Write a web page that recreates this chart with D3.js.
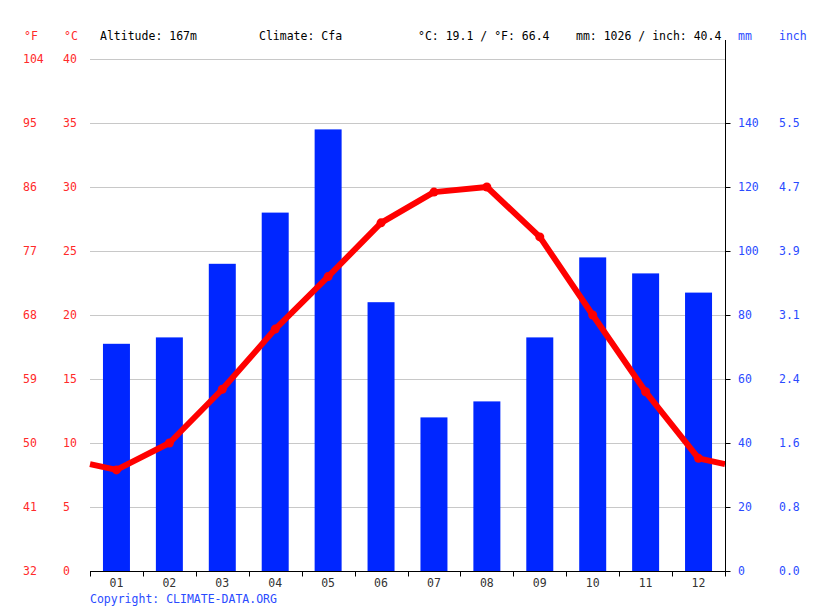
<!DOCTYPE html>
<html>
<head>
<meta charset="utf-8">
<script src="https://cdn.jsdelivr.net/npm/d3@7"></script>
<style>
  body { margin: 0; background: #fff; }
  svg text { font-family: "DejaVu Sans Mono", "Liberation Mono", monospace; font-size: 11.5px; }
</style>
</head>
<body>
<svg id="chart" width="815" height="611"></svg>
<script>
const months = ["01","02","03","04","05","06","07","08","09","10","11","12"];
const precipMM = [71, 73, 96, 112, 138, 84, 48, 53, 73, 98, 93, 87];
const tempC = [7.9, 10.0, 14.2, 18.9, 23.0, 27.2, 29.6, 30.0, 26.1, 20.0, 14.0, 8.8];
const tempTicksC = [0, 5, 10, 15, 20, 25, 30, 35, 40];
const tempTicksF = ["32", "41", "50", "59", "68", "77", "86", "95", "104"];
const precipTicksMM = [0, 20, 40, 60, 80, 100, 120, 140];
const precipTicksInch = ["0.0", "0.8", "1.6", "2.4", "3.1", "3.9", "4.7", "5.5"];
const headerTexts = [
  { text: "Altitude: 167m", x: 100 },
  { text: "Climate: Cfa", x: 259 },
  { text: "°C: 19.1 / °F: 66.4", x: 418 },
  { text: "mm: 1026 / inch: 40.4", x: 576 }
];

const svg = d3.select("#chart");
const pL = 90, pR = 725, pB = 571, pT = 59;

const x = d3.scaleBand().domain(months).range([pL, pR]).padding(0);
const yT = d3.scaleLinear().domain([0, 40]).range([pB, pT]);
const yP = d3.scaleLinear().domain([0, 160]).range([pB, pT]);

const red = "#ff0000", redText = "#ff2a2a", blue = "#0026ff", blueText = "#2a4bff";

// gridlines
svg.append("g").selectAll("line").data(tempTicksC).join("line")
  .attr("x1", pL).attr("x2", pR)
  .attr("y1", d => Math.round(yT(d)) + 0.5).attr("y2", d => Math.round(yT(d)) + 0.5)
  .attr("stroke", "#c8c8c8").attr("stroke-width", 1);

// bars
const bw = x.bandwidth() * 0.51;
svg.append("g").selectAll("rect").data(months).join("rect")
  .attr("x", d => x(d) + (x.bandwidth() - bw) / 2)
  .attr("width", bw)
  .attr("y", (d, i) => yP(precipMM[i]))
  .attr("height", (d, i) => pB - yP(precipMM[i]))
  .attr("fill", blue);

// temperature line, extended to the plot edges with the Dec/Jan wrap-around value
const edge = (tempC[0] + tempC[11]) / 2;
const linePts = [[pL, edge]]
  .concat(months.map((m, i) => [x(m) + x.bandwidth() / 2, tempC[i]]))
  .concat([[pR, edge]]);
svg.append("path")
  .datum(linePts)
  .attr("d", d3.line().x(d => d[0]).y(d => yT(d[1])))
  .attr("fill", "none").attr("stroke", red).attr("stroke-width", 6)
  .attr("stroke-linejoin", "round");
svg.append("g").selectAll("circle").data(months).join("circle")
  .attr("cx", d => x(d) + x.bandwidth() / 2)
  .attr("cy", (d, i) => yT(tempC[i]))
  .attr("r", 4.5).attr("fill", red);

// x axis
const xAxis = svg.append("g").attr("transform", `translate(0,${pB + 0.5})`);
xAxis.append("line").attr("x1", pL).attr("x2", pR + 0.5).attr("stroke", "#000");
const bounds = months.map(m => x(m)).concat([pR]);
xAxis.selectAll("line.tick").data(bounds).join("line").attr("class", "tick")
  .attr("x1", d => Math.round(d) + 0.5).attr("x2", d => Math.round(d) + 0.5)
  .attr("y1", 0).attr("y2", 5).attr("stroke", "#000");
xAxis.selectAll("text").data(months).join("text")
  .attr("x", d => x(d) + x.bandwidth() / 2).attr("y", 15)
  .attr("text-anchor", "middle").attr("fill", "#333").text(d => d);

// right axis
const rAxis = svg.append("g").attr("transform", `translate(${pR + 0.5},0)`);
rAxis.append("line").attr("y1", 40).attr("y2", pB + 1).attr("stroke", "#000");
rAxis.selectAll("line.tick").data(precipTicksMM).join("line").attr("class", "tick")
  .attr("x1", 0).attr("x2", 5)
  .attr("y1", d => Math.round(yP(d)) + 0.5).attr("y2", d => Math.round(yP(d)) + 0.5)
  .attr("stroke", "#000");
svg.append("g").selectAll("text").data(precipTicksMM).join("text")
  .attr("x", 738).attr("y", d => yP(d)).attr("dy", "0.35em")
  .attr("fill", blueText).text(d => d);
svg.append("g").selectAll("text").data(precipTicksInch).join("text")
  .attr("x", 779).attr("y", (d, i) => yP(precipTicksMM[i])).attr("dy", "0.35em")
  .attr("fill", blueText).text(d => d);

// left labels
svg.append("g").selectAll("text").data(tempTicksC).join("text")
  .attr("x", 63).attr("y", d => yT(d)).attr("dy", "0.35em")
  .attr("fill", redText).text(d => d);
svg.append("g").selectAll("text").data(tempTicksF).join("text")
  .attr("x", 23).attr("y", (d, i) => yT(tempTicksC[i])).attr("dy", "0.35em")
  .attr("fill", redText).text(d => d);

// header
svg.append("text").attr("x", 24).attr("y", 40).attr("fill", redText).text("°F");
svg.append("text").attr("x", 64).attr("y", 40).attr("fill", redText).text("°C");
svg.append("text").attr("x", 738).attr("y", 40).attr("fill", blueText).text("mm");
svg.append("text").attr("x", 779).attr("y", 40).attr("fill", blueText).text("inch");
svg.append("g").selectAll("text").data(headerTexts).join("text")
  .attr("x", d => d.x).attr("y", 40).attr("fill", "#000").text(d => d.text);

// copyright
svg.append("text").attr("x", 90).attr("y", 603).attr("fill", blueText)
  .text("Copyright: CLIMATE-DATA.ORG");
</script>
</body>
</html>
